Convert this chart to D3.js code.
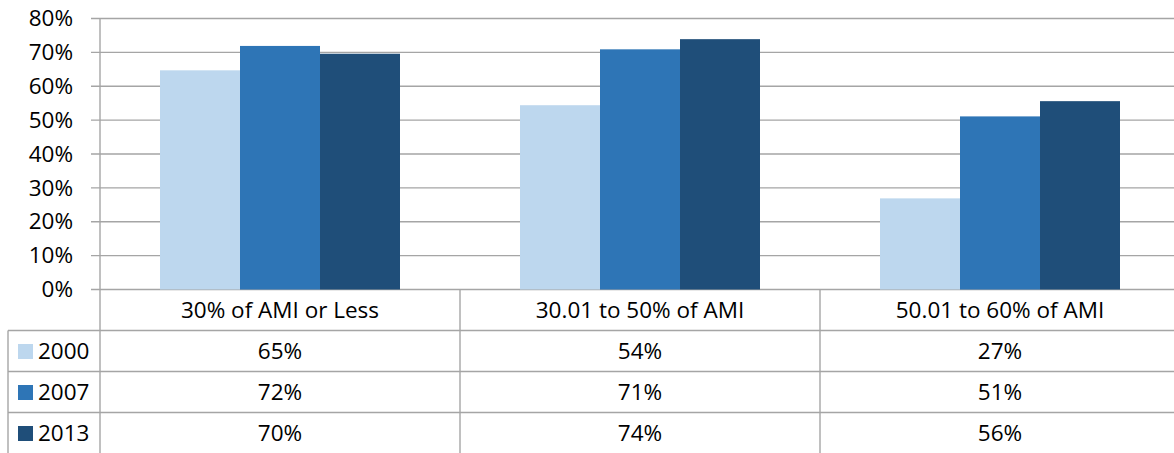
<!DOCTYPE html>
<html>
<head>
<meta charset="utf-8">
<script src="https://cdn.jsdelivr.net/npm/d3@7"></script>
<style>
  body { margin: 0; background: #fff; }
  text { font-family: "Open Sans", "Noto Sans", sans-serif; fill: #000; }
</style>
</head>
<body>
<script>
// categories, series and values (percent)
const categories = ['30% of AMI or Less', '30.01 to 50% of AMI', '50.01 to 60% of AMI'];
const years = ['2000', '2007', '2013'];
const v2000 = [64.7, 54.4, 26.9];
const v2007 = [71.9, 70.9, 51.1];
const v2013 = [69.6, 73.9, 55.6];
const yTicks = [0, 10, 20, 30, 40, 50, 60, 70, 80];
const colors = ['#BDD7EE', '#2E75B6', '#1F4E79'];

const series = [v2000, v2007, v2013];

const w = 1174, h = 453;
const plotL = 100, plotR = 1180;
const plotT = 18.5, base = 289.5;
const rowH = 41;
const fs = '22.5px';

const svg = d3.select('body').append('svg')
  .attr('width', w)
  .attr('height', h);

const x = d3.scaleBand().domain(categories).range([plotL, plotR]);
const xs = d3.scaleBand().domain(years).range([60, 300]);
const y = d3.scaleLinear().domain([0, 80]).range([base, plotT]);

// gridlines
svg.selectAll('line.grid')
  .data(yTicks)
  .enter()
  .append('line')
  .attr('class', 'grid')
  .attr('x1', plotL - 9)
  .attr('x2', w)
  .attr('y1', d => y(d))
  .attr('y2', d => y(d))
  .attr('stroke', '#a5a5a5')
  .attr('stroke-width', 1.4);

// bars
const groups = svg.selectAll('g.year')
  .data(years)
  .enter()
  .append('g')
  .attr('fill', (d, i) => colors[i]);

groups.selectAll('rect')
  .data((d, i) => categories.map((c, j) => ({ c, yr: d, v: series[i][j] })))
  .enter()
  .append('rect')
  .attr('x', d => x(d.c) + xs(d.yr))
  .attr('y', d => y(d.v))
  .attr('width', xs.bandwidth())
  .attr('height', d => base - y(d.v));

// y axis labels
const yAxis = d3.axisLeft(y)
  .tickValues(yTicks)
  .tickFormat(d => d + '%')
  .tickSize(0)
  .tickPadding(27);

svg.append('g')
  .attr('transform', `translate(${plotL},0)`)
  .call(yAxis)
  .call(g => g.select('.domain').remove())
  .call(g => g.attr('font-family', null).attr('font-size', null))
  .selectAll('text')
  .style('font-size', fs);

// table lines
const tline = '#a5a5a5';
const rowsY = [base, base + rowH, base + rowH * 2, base + rowH * 3];

// vertical axis line through table
svg.append('line')
  .attr('x1', plotL).attr('x2', plotL)
  .attr('y1', plotT).attr('y2', h)
  .attr('stroke', tline).attr('stroke-width', 1.4);

// category separators
svg.selectAll('line.sep')
  .data(categories.slice(1))
  .enter()
  .append('line')
  .attr('x1', d => x(d)).attr('x2', d => x(d))
  .attr('y1', base).attr('y2', h)
  .attr('stroke', tline).attr('stroke-width', 1.4);

// horizontal row lines
svg.selectAll('line.row')
  .data(rowsY.slice(1))
  .enter()
  .append('line')
  .attr('x1', 8).attr('x2', w)
  .attr('y1', d => d).attr('y2', d => d)
  .attr('stroke', tline).attr('stroke-width', 1.4);

// left edge of the legend column
svg.append('line')
  .attr('x1', 8).attr('x2', 8)
  .attr('y1', rowsY[1]).attr('y2', h)
  .attr('stroke', tline).attr('stroke-width', 1.4);

// category header
svg.selectAll('text.cat')
  .data(categories)
  .enter()
  .append('text')
  .attr('x', d => x(d) + x.bandwidth() / 2)
  .attr('y', base + rowH / 2)
  .attr('dy', '0.35em')
  .attr('text-anchor', 'middle')
  .style('font-size', fs)
  .text(d => d);

// legend cells
const leg = svg.selectAll('g.leg')
  .data(years)
  .enter()
  .append('g')
  .attr('transform', (d, i) => `translate(0,${rowsY[i + 1] + rowH / 2})`);

leg.append('rect')
  .attr('x', 18).attr('y', -7)
  .attr('width', 15).attr('height', 15)
  .attr('fill', (d, i) => colors[i]);

leg.append('text')
  .attr('x', 38)
  .attr('dy', '0.35em')
  .style('font-size', fs)
  .text(d => d);

// value cells
years.forEach((yr, i) => {
  svg.selectAll('text.val' + yr)
    .data(series[i])
    .enter()
    .append('text')
    .attr('x', (d, j) => x(categories[j]) + x.bandwidth() / 2)
    .attr('y', rowsY[i + 1] + rowH / 2)
    .attr('dy', '0.35em')
    .attr('text-anchor', 'middle')
    .style('font-size', fs)
    .text(d => Math.round(d) + '%');
});
</script>
</body>
</html>
